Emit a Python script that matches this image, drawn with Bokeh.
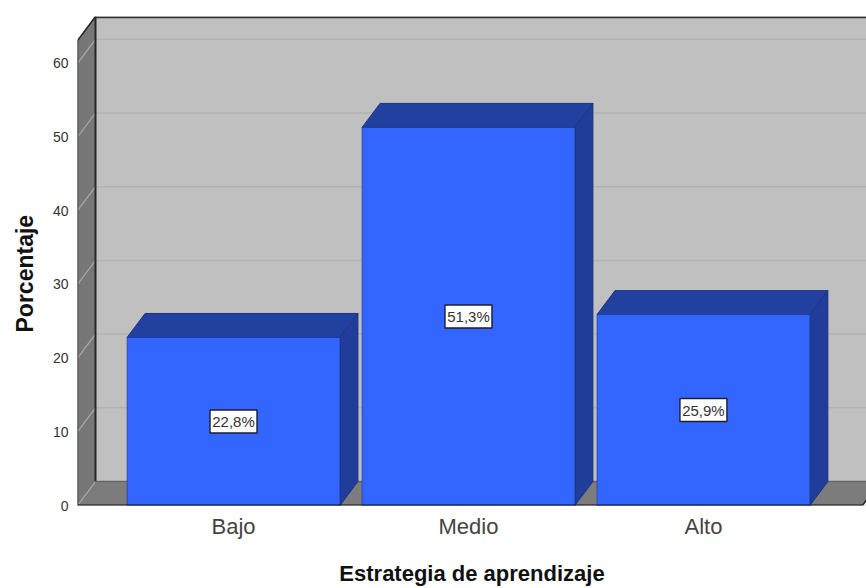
from bokeh.plotting import figure
from bokeh.models import Range1d, FixedTicker, Title, ColumnDataSource
from bokeh.core.properties import value
from bokeh.embed import file_html
from bokeh.resources import INLINE

categories = ["Bajo", "Medio", "Alto"]
percentages = [22.8, 51.3, 25.9]
y_ticks = [0, 10, 20, 30, 40, 50, 60]

# oblique 3D offset, in axis units
DEPTH_X = 18 / 235
DEPTH_Y = 24 / 7.37
BAR_W = 0.906
X0, X1 = -0.664, 2.694
XF = 2.677  # front right end of floor
Y1 = 66.35

FONT = "Liberation Sans"
C_WALL, C_SIDE, C_FLOOR = "#c0c0c0", "#777777", "#7c7c7c"
C_FRONT, C_TOP, C_RIGHT = "#3366ff", "#21409f", "#1f3d99"
C_EDGE = "#1d3485"
DARK = "#262626"

p = figure(width=866, height=588, output_backend="svg", toolbar_location=None,
           x_range=Range1d(X0, X1), y_range=Range1d(0, Y1),
           min_border_left=77, min_border_right=0, min_border_top=16, min_border_bottom=83,
           background_fill_color="white", border_fill_color="white")
p.outline_line_color = None
p.grid.visible = False

# walls
p.patch([X0 + DEPTH_X, X1 + 1, X1 + 1, X0 + DEPTH_X],
        [DEPTH_Y, DEPTH_Y, Y1, Y1], fill_color=C_WALL, line_color=None)
top_back = Y1
top_front = Y1 - DEPTH_Y
p.patch([X0, X0 + DEPTH_X, X0 + DEPTH_X, X0],
        [0, DEPTH_Y, top_back, top_front], fill_color=C_SIDE, line_color=None)
p.patch([X0, X0 + DEPTH_X, X1 + 1, XF],
        [0, DEPTH_Y, DEPTH_Y, 0], fill_color=C_FLOOR, line_color=None)
p.patch([XF, XF + DEPTH_X, XF + DEPTH_X], [0, DEPTH_Y, 0], fill_color="white", line_color=None)

# gridlines
for t in y_ticks[1:]:
    p.line([X0 + DEPTH_X, X1 + 1], [t + DEPTH_Y, t + DEPTH_Y], line_color="#b2b2b2", line_width=1.5)
for t in y_ticks:
    p.line([X0, X0 + DEPTH_X], [t, t + DEPTH_Y], line_color="#a8a8a8", line_width=1.2)

# wall edges
p.line([X0 + DEPTH_X, X0 + DEPTH_X], [DEPTH_Y, Y1], line_color=DARK, line_width=2)
p.line([X0 + DEPTH_X, X1 + 1], [Y1 - 0.1, Y1 - 0.1], line_color="#333333", line_width=2)
p.line([X0, X0], [0, top_front], line_color=DARK, line_width=1.5)
p.line([X0, X0 + DEPTH_X], [top_front, Y1], line_color=DARK, line_width=1.5)
p.line([X0 + DEPTH_X, X1 + 1], [DEPTH_Y, DEPTH_Y], line_color="#666666", line_width=1.5)
p.line([XF, XF + DEPTH_X], [0, DEPTH_Y], line_color=DARK, line_width=1.5)

# bars
for i, v in enumerate(percentages):
    l, r = i - BAR_W / 2, i + BAR_W / 2
    p.patch([l, l + DEPTH_X, r + DEPTH_X, r], [v, v + DEPTH_Y, v + DEPTH_Y, v],
            fill_color=C_TOP, line_color=C_EDGE, line_width=1)
    p.patch([r, r + DEPTH_X, r + DEPTH_X, r], [0, DEPTH_Y, v + DEPTH_Y, v],
            fill_color=C_RIGHT, line_color=C_EDGE, line_width=1)
    p.quad(left=[l], right=[r], bottom=[0], top=[v],
           fill_color=C_FRONT, line_color=C_EDGE, line_width=0.6)

p.line([X0, XF], [0, 0], line_color="#111111", line_width=2.2)

# value labels
src = ColumnDataSource(dict(
    x=list(range(len(categories))),
    y=[v / 2 for v in percentages],
    t=[f"{v:.1f}".replace(".", ",") + "%" for v in percentages],
))
p.rect("x", "y", width=47, height=23, width_units="screen", height_units="screen",
       source=src, fill_color="white", line_color="#1c1c2c", line_width=1.4)
p.text("x", "y", text="t", source=src, text_align="center", text_baseline="middle",
       text_font=value(FONT), text_font_size="15px", text_color="#333333")

# axes
ax = p.yaxis[0]
ax.ticker = FixedTicker(ticks=y_ticks)
ax.axis_line_color = None
ax.major_tick_line_color = None
ax.minor_tick_line_color = None
ax.major_tick_in = 0
ax.major_tick_out = 0
ax.major_label_standoff = 9
ax.major_label_text_font = FONT
ax.major_label_text_font_size = "14px"
ax.major_label_text_color = "#333333"

bx = p.xaxis[0]
bx.ticker = FixedTicker(ticks=list(range(len(categories))))
bx.major_label_overrides = {i: c for i, c in enumerate(categories)}
bx.axis_line_color = None
bx.major_tick_line_color = None
bx.minor_tick_line_color = None
bx.major_tick_in = 0
bx.major_tick_out = 0
bx.major_label_standoff = 8
bx.major_label_text_font = FONT
bx.major_label_text_font_size = "22px"
bx.major_label_text_color = "#444444"
bx.axis_label = "Estrategia de aprendizaje"
bx.axis_label_standoff = 19
bx.axis_label_text_font = FONT
bx.axis_label_text_font_style = "bold"
bx.axis_label_text_font_size = "22px"
bx.axis_label_text_color = "#111111"

p.add_layout(Title(text="Porcentaje", align="left", offset=173, standoff=20, vertical_align="top",
                   text_font=FONT, text_font_style="bold",
                   text_font_size="23px", text_color="#111111"), "left")

open("out.html", "w").write(file_html(p, INLINE))
